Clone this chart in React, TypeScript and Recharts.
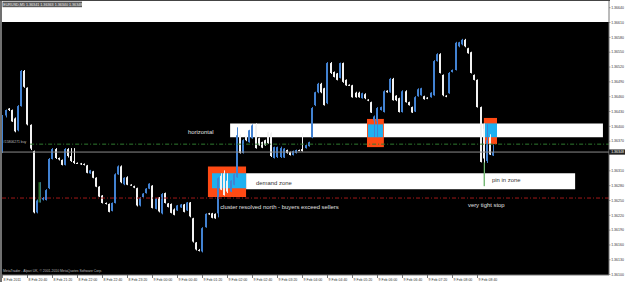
import React from 'react';
import { ComposedChart, Bar, XAxis, YAxis, ReferenceArea, ReferenceLine, ReferenceDot } from 'recharts';

// ---------------- data ----------------
const symbol = 'EURUSD,M5';

const opens = [
  1.36350, 1.36422, 1.36436, 1.36433, 1.36416, 1.36392, 1.36441, 1.36512, 1.36478, 1.36403,
  1.36350, 1.36226, 1.36250, 1.36252, 1.36251, 1.36275, 1.36334, 1.36354, 1.36336, 1.36332,
  1.36322, 1.36354, 1.36340, 1.36330, 1.36326, 1.36325, 1.36324, 1.36321, 1.36305, 1.36309,
  1.36296, 1.36278, 1.36260, 1.36245, 1.36243, 1.36229, 1.36245, 1.36303, 1.36319, 1.36283,
  1.36297, 1.36282, 1.36279, 1.36275, 1.36240, 1.36257, 1.36265, 1.36274, 1.36280, 1.36233,
  1.36256, 1.36224, 1.36265, 1.36244, 1.36243, 1.36232, 1.36230, 1.36236, 1.36242, 1.36230,
  1.36246, 1.36214, 1.36165, 1.36150, 1.36147, 1.36196, 1.36224, 1.36224, 1.36223, 1.36224,
  1.36300, 1.36305, 1.36290, 1.36268, 1.36282, 1.36297, 1.36382, 1.36346, 1.36380, 1.36368,
  1.36376, 1.36402, 1.36376, 1.36368, 1.36372, 1.36388, 1.36386, 1.36336, 1.36338, 1.36338,
  1.36337, 1.36352, 1.36348, 1.36342, 1.36346, 1.36352, 1.36354, 1.36356, 1.36360, 1.36378,
  1.36443, 1.36469, 1.36486, 1.36477, 1.36447, 1.36528, 1.36510, 1.36507, 1.36498, 1.36528,
  1.36494, 1.36484, 1.36483, 1.36468, 1.36468, 1.36457, 1.36465, 1.36454, 1.36449, 1.36412,
  1.36410, 1.36433, 1.36429, 1.36472, 1.36469, 1.36496, 1.36462, 1.36457, 1.36429, 1.36471,
  1.36449, 1.36439, 1.36430, 1.36461, 1.36463, 1.36461, 1.36458, 1.36459, 1.36463, 1.36532,
  1.36546, 1.36504, 1.36462, 1.36467, 1.36510, 1.36514, 1.36562, 1.36566, 1.36575, 1.36558,
  1.36550, 1.36504, 1.36494, 1.36439, 1.36395, 1.36330, 1.36378, 1.36341,
];

const highs = [
  1.36423, 1.36434, 1.36437, 1.36434, 1.36418, 1.36443, 1.36514, 1.36514, 1.36479, 1.36404,
  1.36351, 1.36252, 1.36287, 1.36257, 1.36273, 1.36336, 1.36356, 1.36356, 1.36337, 1.36333,
  1.36356, 1.36356, 1.36356, 1.36356, 1.36327, 1.36326, 1.36325, 1.36322, 1.36312, 1.36310,
  1.36297, 1.36279, 1.36261, 1.36246, 1.36244, 1.36246, 1.36305, 1.36321, 1.36321, 1.36297,
  1.36299, 1.36283, 1.36280, 1.36276, 1.36257, 1.36265, 1.36275, 1.36285, 1.36281, 1.36255,
  1.36257, 1.36265, 1.36266, 1.36245, 1.36244, 1.36234, 1.36241, 1.36243, 1.36243, 1.36247,
  1.36247, 1.36215, 1.36166, 1.36152, 1.36196, 1.36224, 1.36225, 1.36225, 1.36224, 1.36297,
  1.36305, 1.36311, 1.36305, 1.36291, 1.36305, 1.36398, 1.36384, 1.36374, 1.36382, 1.36393,
  1.36404, 1.36406, 1.36377, 1.36369, 1.36373, 1.36389, 1.36388, 1.36359, 1.36359, 1.36359,
  1.36356, 1.36353, 1.36349, 1.36351, 1.36353, 1.36353, 1.36386, 1.36363, 1.36369, 1.36439,
  1.36470, 1.36488, 1.36488, 1.36478, 1.36530, 1.36530, 1.36511, 1.36508, 1.36529, 1.36529,
  1.36495, 1.36485, 1.36484, 1.36470, 1.36470, 1.36468, 1.36467, 1.36455, 1.36450, 1.36422,
  1.36439, 1.36440, 1.36473, 1.36473, 1.36498, 1.36498, 1.36463, 1.36458, 1.36473, 1.36473,
  1.36450, 1.36440, 1.36461, 1.36477, 1.36478, 1.36462, 1.36459, 1.36469, 1.36534, 1.36548,
  1.36548, 1.36505, 1.36463, 1.36510, 1.36515, 1.36571, 1.36571, 1.36577, 1.36577, 1.36559,
  1.36551, 1.36505, 1.36495, 1.36440, 1.36406, 1.36404, 1.36384, 1.36363,
];

const lows = [
  1.36346, 1.36418, 1.36431, 1.36409, 1.36388, 1.36390, 1.36440, 1.36478, 1.36402, 1.36352,
  1.36224, 1.36224, 1.36246, 1.36250, 1.36250, 1.36273, 1.36333, 1.36334, 1.36331, 1.36321,
  1.36321, 1.36337, 1.36328, 1.36324, 1.36324, 1.36322, 1.36321, 1.36305, 1.36304, 1.36295,
  1.36277, 1.36257, 1.36244, 1.36242, 1.36226, 1.36228, 1.36244, 1.36302, 1.36285, 1.36281,
  1.36281, 1.36280, 1.36275, 1.36238, 1.36238, 1.36256, 1.36264, 1.36273, 1.36234, 1.36232,
  1.36226, 1.36222, 1.36244, 1.36236, 1.36224, 1.36220, 1.36229, 1.36235, 1.36226, 1.36229,
  1.36216, 1.36165, 1.36149, 1.36147, 1.36145, 1.36195, 1.36221, 1.36214, 1.36213, 1.36216,
  1.36271, 1.36260, 1.36265, 1.36267, 1.36281, 1.36296, 1.36345, 1.36345, 1.36370, 1.36367,
  1.36375, 1.36355, 1.36361, 1.36356, 1.36361, 1.36365, 1.36338, 1.36335, 1.36336, 1.36336,
  1.36336, 1.36345, 1.36341, 1.36341, 1.36345, 1.36350, 1.36349, 1.36355, 1.36359, 1.36376,
  1.36441, 1.36467, 1.36467, 1.36442, 1.36445, 1.36506, 1.36499, 1.36493, 1.36497, 1.36488,
  1.36482, 1.36482, 1.36458, 1.36458, 1.36458, 1.36456, 1.36455, 1.36451, 1.36427, 1.36378,
  1.36378, 1.36432, 1.36428, 1.36468, 1.36468, 1.36452, 1.36451, 1.36428, 1.36428, 1.36448,
  1.36442, 1.36427, 1.36429, 1.36460, 1.36462, 1.36454, 1.36455, 1.36458, 1.36462, 1.36531,
  1.36507, 1.36461, 1.36459, 1.36466, 1.36509, 1.36513, 1.36560, 1.36564, 1.36560, 1.36547,
  1.36507, 1.36493, 1.36438, 1.36327, 1.36279, 1.36326, 1.36342, 1.36340,
];

const closes = [
  1.36420, 1.36433, 1.36433, 1.36410, 1.36390, 1.36441, 1.36512, 1.36480, 1.36404, 1.36355,
  1.36226, 1.36250, 1.36252, 1.36255, 1.36271, 1.36334, 1.36354, 1.36336, 1.36333, 1.36322,
  1.36354, 1.36340, 1.36330, 1.36326, 1.36325, 1.36323, 1.36322, 1.36306, 1.36311, 1.36296,
  1.36278, 1.36258, 1.36245, 1.36243, 1.36227, 1.36245, 1.36303, 1.36319, 1.36287, 1.36296,
  1.36282, 1.36281, 1.36276, 1.36240, 1.36255, 1.36264, 1.36274, 1.36284, 1.36235, 1.36254,
  1.36228, 1.36263, 1.36245, 1.36237, 1.36225, 1.36221, 1.36240, 1.36242, 1.36227, 1.36246,
  1.36218, 1.36167, 1.36151, 1.36149, 1.36194, 1.36223, 1.36222, 1.36215, 1.36214, 1.36295,
  1.36272, 1.36261, 1.36268, 1.36290, 1.36303, 1.36382, 1.36346, 1.36372, 1.36372, 1.36392,
  1.36402, 1.36356, 1.36362, 1.36357, 1.36362, 1.36366, 1.36340, 1.36358, 1.36358, 1.36356,
  1.36355, 1.36346, 1.36342, 1.36350, 1.36352, 1.36351, 1.36350, 1.36362, 1.36368, 1.36437,
  1.36469, 1.36486, 1.36469, 1.36443, 1.36528, 1.36508, 1.36500, 1.36494, 1.36528, 1.36490,
  1.36483, 1.36483, 1.36459, 1.36459, 1.36459, 1.36467, 1.36457, 1.36452, 1.36428, 1.36420,
  1.36437, 1.36439, 1.36471, 1.36469, 1.36496, 1.36453, 1.36453, 1.36429, 1.36471, 1.36449,
  1.36443, 1.36428, 1.36459, 1.36475, 1.36477, 1.36455, 1.36457, 1.36468, 1.36532, 1.36546,
  1.36508, 1.36463, 1.36460, 1.36508, 1.36514, 1.36569, 1.36570, 1.36575, 1.36562, 1.36548,
  1.36508, 1.36494, 1.36439, 1.36328, 1.36335, 1.36372, 1.36343, 1.36348,
];

const timeTicks = [0, 8, 16, 24, 32, 40, 48, 56, 64, 72, 80, 88, 96, 104, 112, 120, 128, 136, 144, 152];
const timeLabels = [
  '8 Feb 2011', '8 Feb 20:40', '8 Feb 21:20', '8 Feb 22:00', '8 Feb 22:40', '8 Feb 23:20',
  '9 Feb 00:00', '9 Feb 00:40', '9 Feb 01:20', '9 Feb 02:00', '9 Feb 02:40', '9 Feb 03:20',
  '9 Feb 04:00', '9 Feb 04:40', '9 Feb 05:20', '9 Feb 06:00', '9 Feb 06:40', '9 Feb 07:20',
  '9 Feb 08:00', '9 Feb 08:40',
];
const priceTicks = [
  1.3664, 1.3661, 1.3658, 1.3655, 1.3652, 1.3649, 1.3646, 1.3643, 1.364, 1.3637,
  1.3631, 1.3628, 1.3625, 1.3622, 1.3619, 1.3616, 1.3613, 1.361,
];

const orderPrice = 1.36364;
const orderStartBar = 9;
const stopPrice = 1.36255;
const orderLabel = '#15806271 buy';

// chart objects (bar index / price)
const whiteBands = [
  { x1: 73.0, x2: 192.3, y1: 1.36378, y2: 1.36406 },
  { x1: 78.1, x2: 183.4, y1: 1.36273, y2: 1.36305 },
];
const orangeBoxes = [
  { x1: 65.9, x2: 78.1, y1: 1.36257, y2: 1.36319 },
  { x1: 116.8, x2: 122.2, y1: 1.36358, y2: 1.36415 },
  { x1: 154.2, x2: 158.4, y1: 1.36364, y2: 1.36417 },
];
const cyanBoxes = [
  { x1: 67.2, x2: 78.1, y1: 1.36275, y2: 1.36305 },
  { x1: 117.1, x2: 121.9, y1: 1.36378, y2: 1.36404 },
  { x1: 154.2, x2: 158.4, y1: 1.36378, y2: 1.36406 },
];
const greenMarks = [
  { x: 12, y1: 1.36246, y2: 1.36287 },
  { x: 154.3, y1: 1.36279, y2: 1.36327 },
];
const notes = [
  { text: 'horizontal', x: 59.5, y: 1.36389, onWhite: false },
  { text: 'demand zone', x: 81.3, y: 1.36286, onWhite: true },
  { text: 'cluster resolved north - buyers exceed sellers', x: 69.8, y: 1.36236, onWhite: false },
  { text: 'pin in zone', x: 156.8, y: 1.36291, onWhite: true },
  { text: 'very tight stop', x: 149.1, y: 1.36240, onWhite: false },
];

// ---------------- styling ----------------
const X_DOMAIN: [number, number] = [0, 194.24];
const Y_DOMAIN: [number, number] = [1.360993, 1.366556];
const BLACK_TOP = 1.36611;
const BULL = '#4282d2';
const BEAR = '#f2f2f2';
const FONT = 'Liberation Sans, Arial, sans-serif';

const data = opens.map((o, i) => ({ i, o, h: highs[i], l: lows[i], c: closes[i] }));
const last = data[data.length - 1];
const bid = last.c;

function Candle(props: any) {
  const { x, y, width, height, payload } = props;
  if (!payload) return null;
  const { o, h, l, c } = payload;
  const top = Math.min(y, y + height);
  const bot = Math.max(y, y + height);
  const k = (bot - top) / (h - l || 1e-9);
  const yOf = (v: number) => top + (h - v) * k;
  const cx = Math.round(x + width / 2);
  const col = c >= o ? BULL : BEAR;
  const bt = yOf(Math.max(o, c));
  const bb = yOf(Math.min(o, c));
  return (
    <g>
      <rect x={cx} y={top} width={1} height={Math.max(bot - top, 1)} fill={col} />
      <rect x={cx - 1} y={bt} width={2} height={Math.max(bb - bt, 1)} fill={col} />
    </g>
  );
}

function PriceTick(props: any) {
  const { x, y, payload } = props;
  return (
    <g>
      <line x1={x} x2={x + 1.5} y1={y} y2={y} stroke="#666" strokeWidth={0.6} />
      <text x={x + 2.2} y={y + 1.2} fontSize={3.5} fill="#333" fontFamily={FONT}>
        {Number(payload.value).toFixed(5)}
      </text>
    </g>
  );
}

function TimeTick(props: any) {
  const { x, y, payload } = props;
  const idx = timeTicks.indexOf(payload.value);
  return (
    <g>
      <line x1={x + 0.5} x2={x + 0.5} y1={y} y2={y + 3} stroke="#555" strokeWidth={0.8} />
      <text x={x + 1.6} y={y + 5.6} fontSize={3.5} fill="#333" fontFamily={FONT}>
        {timeLabels[idx]}
      </text>
    </g>
  );
}

export default function App() {
  const title = `${symbol}  ${last.o.toFixed(5)} ${last.h.toFixed(5)} ${last.l.toFixed(5)} ${last.c.toFixed(5)}`;
  return (
    <div style={{ position: 'absolute', left: 0, top: 0, width: 625, height: 282, background: '#fff' }}>
      <ComposedChart
        width={625}
        height={282}
        data={data}
        margin={{ top: 0, right: 0, bottom: 0, left: 2 }}
      >
        <XAxis
          dataKey="i"
          type="number"
          domain={X_DOMAIN}
          allowDataOverflow
          ticks={timeTicks}
          interval={0}
          height={7}
          tickSize={0}
          tickMargin={0}
          tickLine={false}
          axisLine={{ stroke: '#777', strokeWidth: 1 }}
          tick={(p: any) => <TimeTick {...p} />}
        />
        <YAxis
          orientation="right"
          type="number"
          domain={Y_DOMAIN}
          allowDataOverflow
          ticks={priceTicks}
          interval={0}
          width={16}
          tickSize={0}
          tickMargin={0}
          tickLine={false}
          axisLine={{ stroke: '#777', strokeWidth: 1 }}
          tick={(p: any) => <PriceTick {...p} />}
        />
        <ReferenceArea x1={X_DOMAIN[0]} x2={X_DOMAIN[1]} y1={Y_DOMAIN[0]} y2={BLACK_TOP} fill="#000" fillOpacity={1} stroke="none" />
        {whiteBands.map((b, k) => (
          <ReferenceArea key={'w' + k} x1={b.x1} x2={b.x2} y1={b.y1} y2={b.y2} fill="#ffffff" fillOpacity={1} stroke="none" />
        ))}
        {orangeBoxes.map((b, k) => (
          <ReferenceArea key={'o' + k} x1={b.x1} x2={b.x2} y1={b.y1} y2={b.y2} fill="#ff4a14" fillOpacity={1} stroke="none" />
        ))}
        {cyanBoxes.map((b, k) => (
          <ReferenceArea key={'c' + k} x1={b.x1} x2={b.x2} y1={b.y1} y2={b.y2} fill="#1eb0f0" fillOpacity={1} stroke="none" />
        ))}
        <ReferenceLine y={bid} stroke="#8a8a8a" strokeWidth={1} />
        <ReferenceLine
          segment={[{ x: orderStartBar, y: orderPrice }, { x: X_DOMAIN[1], y: orderPrice }]}
          stroke="#2f7a2f"
          strokeWidth={1}
          strokeDasharray="4 2 1 2"
        />
        <ReferenceLine y={stopPrice} stroke="#a01818" strokeWidth={1} strokeDasharray="4 2 1 2" />
        <Bar
          dataKey={(d: any) => [d.l, d.h]}
          barSize={2}
          shape={(p: any) => <Candle {...p} />}
          isAnimationActive={false}
        />
        {greenMarks.map((g, k) => (
          <ReferenceLine
            key={'g' + k}
            segment={[{ x: g.x, y: g.y1 }, { x: g.x, y: g.y2 }]}
            stroke={k === 0 ? '#2a6e2a' : '#3f9f3f'}
            strokeWidth={k === 0 ? 2 : 1}
          />
        ))}
        {notes.map((n, k) => (
          <ReferenceDot
            key={'n' + k}
            x={n.x}
            y={n.y}
            r={0}
            shape={(p: any) => (
              <text
                x={p.cx}
                y={p.cy + 2}
                fontSize={5.9}
                fill={n.onWhite ? '#333' : '#e0e0e0'}
                fontFamily={FONT}
              >
                {n.text}
              </text>
            )}
          />
        ))}
        <ReferenceDot
          x={0.3}
          y={orderPrice}
          r={0}
          shape={(p: any) => (
            <text x={p.cx} y={p.cy - 1.2} fontSize={3.4} fill="#bdbdbd" fontFamily={FONT}>
              {orderLabel}
            </text>
          )}
        />
        <ReferenceDot
          x={X_DOMAIN[1]}
          y={bid}
          r={0}
          shape={(p: any) => (
            <g>
              <rect x={p.cx} y={p.cy - 2.6} width={16} height={5.2} fill="#222" />
              <text x={p.cx + 2.2} y={p.cy + 1.3} fontSize={3.5} fill="#fff" fontFamily={FONT}>
                {bid.toFixed(5)}
              </text>
            </g>
          )}
        />
      </ComposedChart>
      <svg width={625} height={282} style={{ position: 'absolute', left: 0, top: 0, pointerEvents: 'none' }}>
        <rect x={0} y={0} width={2} height={282} fill="#707070" />
        <rect x={0} y={0} width={610} height={1} fill="#444" />
        <rect x={2.5} y={1.6} width={79.5} height={5.6} fill="#5a5a5a" />
        <text x={3.2} y={5.8} fontSize={3.7} fill="#f0f0f0" fontFamily={FONT}>
          {title}
        </text>
        <text x={3} y={272.4} fontSize={3.4} fill="#bcbcbc" fontFamily={FONT}>
          MetaTrader - Alpari UK, © 2001-2010 MetaQuotes Software Corp.
        </text>
      </svg>
    </div>
  );
}
